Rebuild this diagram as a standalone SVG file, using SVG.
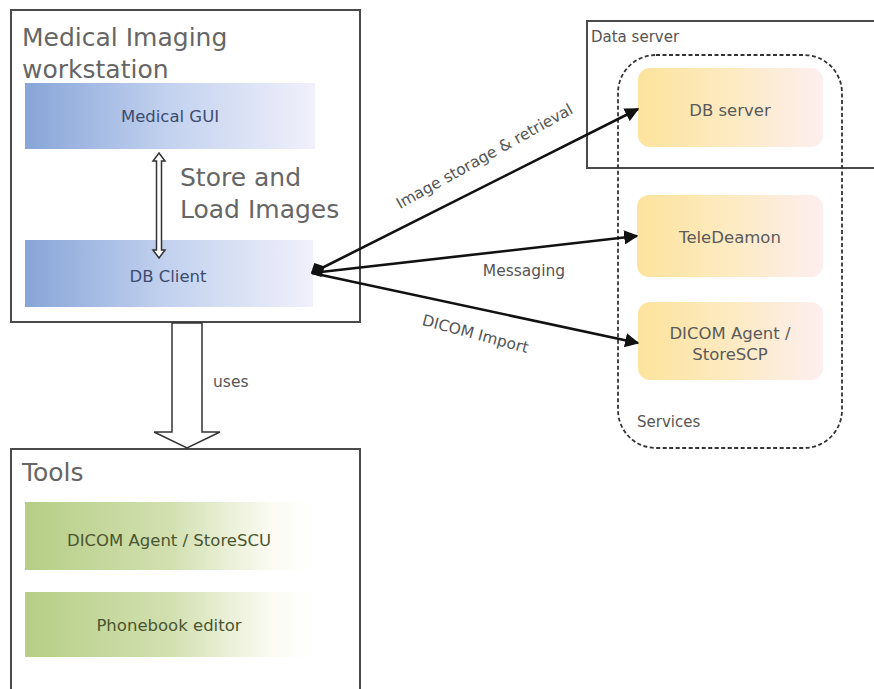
<svg xmlns="http://www.w3.org/2000/svg" width="874" height="689" viewBox="0 0 874 689">
  <style>
    .frame { fill: #ffffff; stroke: #4a4a4a; stroke-width: 2; }
    .title { font-family: "DejaVu Sans", Verdana, sans-serif; font-size: 25px; fill: #666666; }
    .small { font-family: "DejaVu Sans", Verdana, sans-serif; font-size: 16.5px; text-anchor: middle; }
    .blue-t { fill: #3c4b70; }
    .yel-t { fill: #5a5a5a; }
    .grn-t { fill: #4a5530; }
    .lbl { font-family: "DejaVu Sans", Verdana, sans-serif; font-size: 15.5px; fill: #555555; }
    .edge { stroke: #111111; stroke-width: 2.6; fill: none; }
    .hollow { fill: #ffffff; stroke: #333333; stroke-width: 1.5; stroke-linejoin: miter; }
  </style>
  <defs>
    <linearGradient id="gBlue" x1="0" y1="0" x2="1" y2="0">
      <stop offset="0" stop-color="#88a5d8"/>
      <stop offset="0.5" stop-color="#c3d2ef"/>
      <stop offset="1" stop-color="#f1f0fb"/>
    </linearGradient>
    <linearGradient id="gYellow" x1="0" y1="0" x2="1" y2="0">
      <stop offset="0" stop-color="#fde39c"/>
      <stop offset="0.55" stop-color="#fdebc6"/>
      <stop offset="1" stop-color="#fdeef0"/>
    </linearGradient>
    <linearGradient id="gGreen" x1="0" y1="0" x2="1" y2="0">
      <stop offset="0" stop-color="#b6ce86"/>
      <stop offset="0.5" stop-color="#d2e0b0"/>
      <stop offset="0.85" stop-color="#fbfbf3"/>
      <stop offset="1" stop-color="#ffffff"/>
    </linearGradient>
    <marker id="arrow" viewBox="0 0 10 10" refX="9" refY="5" markerWidth="5.5" markerHeight="5.5" orient="auto" markerUnits="strokeWidth">
      <path d="M0,0 L10,5 L0,10 Z" fill="#111111"/>
    </marker>
    <marker id="diamond" viewBox="0 0 12 12" refX="1" refY="6" markerWidth="6" markerHeight="6" orient="auto" markerUnits="strokeWidth">
      <path d="M0,6 L6,0 L12,6 L6,12 Z" fill="#111111"/>
    </marker>
  </defs>

  <!-- Medical Imaging workstation -->
  <g id="workstation">
    <rect class="frame" x="11" y="10" width="349" height="312"/>
    <text class="title" x="22" y="46">Medical Imaging</text>
    <text class="title" x="22" y="78">workstation</text>
  </g>
  <g id="medical-gui">
    <rect x="25" y="83" width="290" height="66" fill="url(#gBlue)"/>
    <text class="small blue-t" x="170" y="122">Medical GUI</text>
  </g>
  <g id="db-client">
    <rect x="25" y="240" width="288" height="67" fill="url(#gBlue)"/>
    <text class="small blue-t" x="168" y="282">DB Client</text>
  </g>
  <g id="store-load">
    <path class="hollow" d="M159,153 L165,161 L161.5,161 L161.5,250 L165,250 L159,258 L153,250 L156.5,250 L156.5,161 L153,161 Z"/>
    <text class="title" x="180" y="186">Store and</text>
    <text class="title" x="180" y="218">Load Images</text>
  </g>

  <!-- Data server -->
  <g id="data-server">
    <rect class="frame" x="587" y="21" width="290" height="147"/>
    <text class="lbl" x="591" y="42" style="font-size:15px">Data server</text>
  </g>
  <g id="services">
    <rect x="618" y="55" width="224" height="393" rx="38" ry="38" fill="none" stroke="#333333" stroke-width="1.8" stroke-dasharray="4,2.5"/>
    <text class="lbl" x="637" y="427" style="font-size:15px">Services</text>
  </g>
  <g id="db-server">
    <rect x="638" y="68" width="185" height="79" rx="12" fill="url(#gYellow)"/>
    <text class="small yel-t" x="730" y="116">DB server</text>
  </g>
  <g id="teledeamon">
    <rect x="637" y="195" width="186" height="82" rx="12" fill="url(#gYellow)"/>
    <text class="small yel-t" x="730" y="243">TeleDeamon</text>
  </g>
  <g id="dicom-storescp">
    <rect x="638" y="302" width="185" height="78" rx="12" fill="url(#gYellow)"/>
    <text class="small yel-t" x="730" y="339">DICOM Agent /</text>
    <text class="small yel-t" x="730" y="360">StoreSCP</text>
  </g>

  <!-- Tools -->
  <g id="tools">
    <rect class="frame" x="11" y="449" width="349" height="250"/>
    <text class="title" x="22" y="481">Tools</text>
  </g>
  <g id="dicom-storescu">
    <rect x="25" y="502" width="290" height="68" fill="url(#gGreen)"/>
    <text class="small grn-t" x="169" y="546">DICOM Agent / StoreSCU</text>
  </g>
  <g id="phonebook">
    <rect x="25" y="592" width="290" height="65" fill="url(#gGreen)"/>
    <text class="small grn-t" x="169" y="631">Phonebook editor</text>
  </g>

  <!-- Connectors -->
  <g id="connectors">
    <path class="edge" d="M312,273 L638,109" marker-start="url(#diamond)" marker-end="url(#arrow)"/>
    <path class="edge" d="M312,273 L637,236" marker-end="url(#arrow)"/>
    <path class="edge" d="M312,273 L638,343" marker-end="url(#arrow)"/>
    <text class="lbl" transform="translate(487,161) rotate(-29)" text-anchor="middle">Image storage &amp; retrieval</text>
    <text class="lbl" x="524" y="276" text-anchor="middle">Messaging</text>
    <text class="lbl" transform="translate(474,339) rotate(15)" text-anchor="middle">DICOM Import</text>
    <path class="hollow" d="M172,323 L202,323 L202,432 L220,432 L187,448 L154,432 L172,432 Z"/>
    <text class="lbl" x="213" y="387">uses</text>
  </g>
</svg>
